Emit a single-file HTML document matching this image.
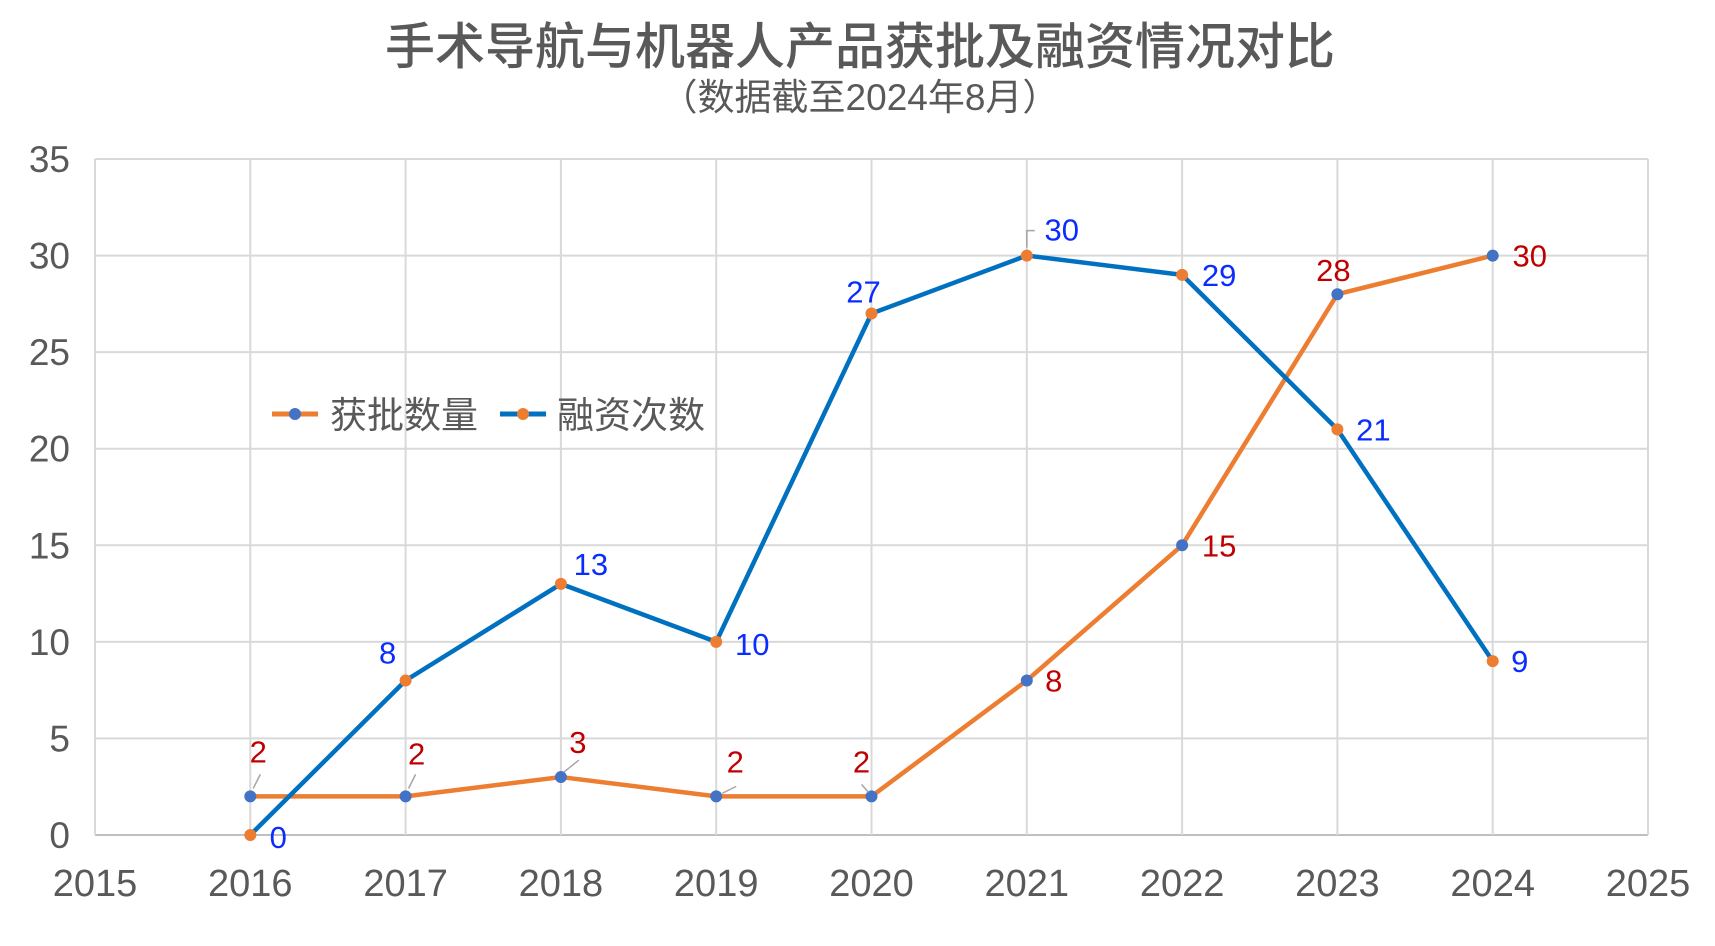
<!DOCTYPE html>
<html><head><meta charset="utf-8"><style>
html,body{margin:0;padding:0;background:#fff;}
svg{display:block;font-family:"Liberation Sans","Noto Sans CJK SC",sans-serif;}
</style></head><body>
<svg id="chart" width="1715" height="946" viewBox="0 0 1715 946">
<text x="860" y="64" text-anchor="middle" font-size="50" font-weight="500" fill="#595959" font-family="'Liberation Sans','Noto Sans CJK SC',sans-serif">手术导航与机器人产品获批及融资情况对比</text>
<text x="860" y="110" text-anchor="middle" font-size="37" fill="#595959" font-family="'Liberation Sans','Noto Sans CJK SC',sans-serif">（数据截至2024年8月）</text>
<g id="grid"></g>
<g id="axes"></g>
<g id="lines"></g>
<g id="labels"></g>
<g>
<g>
<line x1="272" y1="414" x2="318" y2="414" stroke="#ed7d31" stroke-width="5"/>
<circle cx="295" cy="414" r="6" fill="#4472c4"/>
<text x="330" y="428" font-size="37" fill="#595959" font-family="'Liberation Sans','Noto Sans CJK SC',sans-serif">获批数量</text>
</g>
<g>
<line x1="500" y1="414" x2="546" y2="414" stroke="#0070c0" stroke-width="5"/>
<circle cx="523" cy="414" r="6" fill="#ed7d31"/>
<text x="557" y="428" font-size="37" fill="#595959" font-family="'Liberation Sans','Noto Sans CJK SC',sans-serif">融资次数</text>
</g>
</g>
</svg>
<script>
const years = [2016,2017,2018,2019,2020,2021,2022,2023,2024];
const approvals = [2,2,3,2,2,8,15,28,30];
const funding = [0,8,13,10,27,30,29,21,9];
const yTicks = [0,5,10,15,20,25,30,35];
const xTicks = [2015,2016,2017,2018,2019,2020,2021,2022,2023,2024,2025];

const L=95,R=1648,T=159,B=835;
const xs = v => L + (v-2015)/(2025-2015)*(R-L);
const ys = v => B - v/35*(B-T);
const NS='http://www.w3.org/2000/svg';
function mk(tag, attrs, parent){const e=document.createElementNS(NS,tag);for(const k in attrs)e.setAttribute(k,attrs[k]);parent.appendChild(e);return e;}
const grid=document.getElementById('grid'), axes=document.getElementById('axes'), lines=document.getElementById('lines'), labels=document.getElementById('labels');

yTicks.forEach(t=>{
  const g=mk('line',{x1:L,x2:R,y1:ys(t),y2:ys(t),stroke:t===0?'#bfbfbf':'#d9d9d9','stroke-width':2},grid);
  
  
  const tx=mk('text',{x:70,y:ys(t)+13,'text-anchor':'end','font-size':37,fill:'#595959'},axes);
  tx.textContent=t;
  
  
});
xTicks.forEach(t=>{
  const g=mk('line',{x1:xs(t),x2:xs(t),y1:T,y2:B,stroke:'#d9d9d9','stroke-width':2},grid);
  
  
  const tx=mk('text',{x:xs(t),y:896,'text-anchor':'middle','font-size':38,fill:'#595959'},axes);
  tx.textContent=t;
  
  
});

function series(vals,color,mcolor,name){
  const pts=vals.map((v,i)=>xs(years[i])+','+ys(v)).join(' ');
  const pl=mk('polyline',{points:pts,fill:'none',stroke:color,'stroke-width':4.5,'stroke-linejoin':'round'},lines);
  
  
  vals.forEach((v,i)=>{
    const c=mk('circle',{cx:xs(years[i]),cy:ys(v),r:6,fill:mcolor},lines);
    
    
  });
}
series(approvals,'#ed7d31','#4472c4','approvals');
series(funding,'#0070c0','#ed7d31','funding');

// label offsets (style)
const fOff=[[28,12],[-18,-18],[30,-10],[36,12],[-8,-12],[35,-16],[37,10],[36,10],[27,10]];
const aOff=[[8,-35],[11,-33],[17,-25],[19,-25],[-10,-25],[27,10],[37,10],[-4,-14],[37,10]];
function dl(vals,offs,color,name){
  vals.forEach((v,i)=>{
    const tx=mk('text',{x:xs(years[i])+offs[i][0],y:ys(v)+offs[i][1]+1,'text-anchor':'middle','font-size':31,fill:color},labels);
    tx.textContent=v;
    
    
  });
}
dl(approvals,aOff,'#c00000','approvals');
dl(funding,fOff,'#0a2cff','funding');
// leader lines
[[0,[3,-8,10,-22]],[1,[3,-8,10,-22]],[2,[3,-5,18,-17]],[3,[6,-3,20,-10]],[4,[-3,-4,-10,-12]]].forEach(([i,d])=>{
  const x=xs(years[i]),y=ys(approvals[i]);
  const l=mk('line',{x1:x+d[0],y1:y+d[1],x2:x+d[2],y2:y+d[3],stroke:'#a6a6a6','stroke-width':1.5},labels);
  
  
});
const lx=xs(2021), ly=ys(30);
const pl=mk('polyline',{points:`${lx},${ly-8} ${lx},${ly-25} ${lx+8},${ly-25}`,fill:'none',stroke:'#a6a6a6','stroke-width':1.5},labels);


</script>
</body></html>
